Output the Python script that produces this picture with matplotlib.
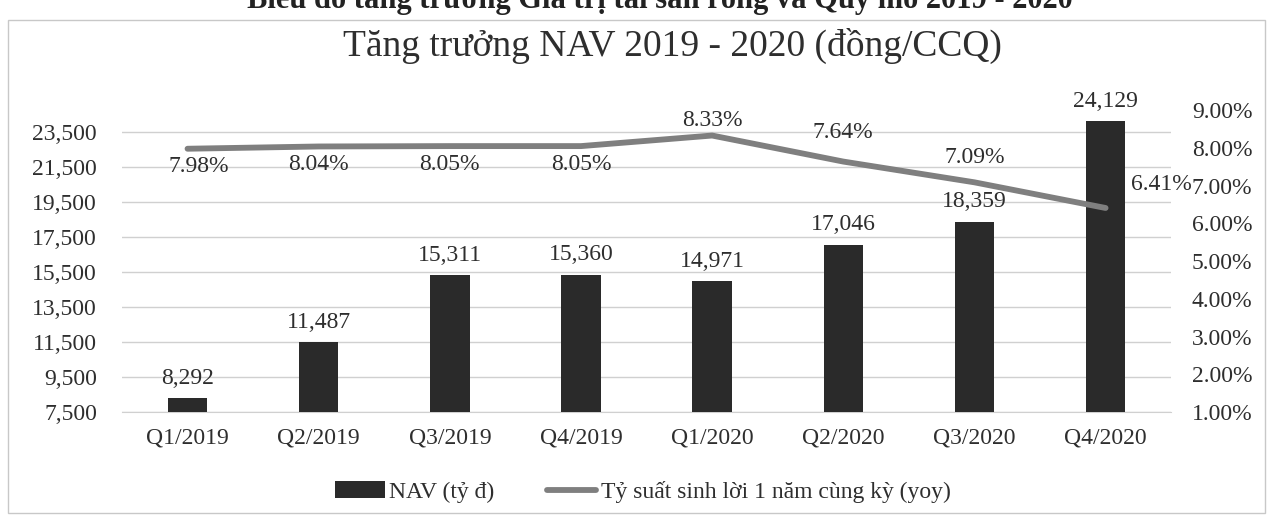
import matplotlib.pyplot as plt
from matplotlib.patches import Rectangle
from matplotlib.ticker import FuncFormatter

plt.rcParams['font.family'] = ['Liberation Serif', 'DejaVu Serif']

quarters = ['Q1/2019', 'Q2/2019', 'Q3/2019', 'Q4/2019',
            'Q1/2020', 'Q2/2020', 'Q3/2020', 'Q4/2020']
nav = [8292, 11487, 15311, 15360, 14971, 17046, 18359, 24129]
yoy = [7.98, 8.04, 8.05, 8.05, 8.33, 7.64, 7.09, 6.41]
left_ticks = [7500, 9500, 11500, 13500, 15500, 17500, 19500, 21500, 23500]
right_ticks = [1, 2, 3, 4, 5, 6, 7, 8, 9]

# where each yoy label sits relative to its point (points)
yoy_offsets = [(8, -13), (0, -13), (0, -13), (0, -13),
               (0, 11), (0, 21), (0, 18), (18, 17)]

txt = '#2e2e2e'
bar_col = '#2a2a2a'
line_col = '#7f7f7f'

fig = plt.figure(figsize=(12.73, 5.25), dpi=100)
ax = fig.add_axes([0.0958, 0.215, 0.8242, 0.575])
ax2 = ax.twinx()

x = range(len(quarters))
bars = ax.bar(x, nav, width=0.3, color=bar_col, zorder=3, label='NAV (tỷ đ)')
ax.set_ylim(7500, 24757)
ax.set_xlim(-0.5, len(quarters) - 0.5)
ax.set_yticks(left_ticks)
ax.yaxis.set_major_formatter(FuncFormatter(lambda v, p: f'{v:,.0f}'))
ax.set_xticks(list(x))
ax.set_xticklabels(quarters)
ax.grid(axis='y', color='#d0d0d0', linewidth=1, zorder=0)
ax.tick_params(axis='y', length=0, pad=18, labelsize=17, labelcolor=txt)
ax.tick_params(axis='x', length=0, pad=11, labelsize=17, labelcolor=txt)
for s in ['top', 'left', 'right']:
    ax.spines[s].set_visible(False)
ax.spines['bottom'].set_color('#d0d0d0')

for xi, v in zip(x, nav):
    ax.annotate(f'{v:,}', (xi, v), xytext=(0, 7), textcoords='offset points',
                ha='center', va='bottom', fontsize=17, color=txt)

line, = ax2.plot(list(x), yoy, color=line_col, linewidth=4.2,
                 solid_capstyle='round', zorder=4,
                 label='Tỷ suất sinh lời 1 năm cùng kỳ (yoy)')
ax2.set_ylim(1, 9)
ax2.set_yticks(right_ticks)
ax2.yaxis.set_major_formatter(FuncFormatter(lambda v, p: f'{v:.2f}%'))
ax2.tick_params(axis='y', length=0, pad=15, labelsize=17, labelcolor=txt)
for s in ax2.spines.values():
    s.set_visible(False)

for i, (xi, v) in enumerate(zip(x, yoy)):
    dx, dy = yoy_offsets[i]
    ha = 'left' if i == len(yoy) - 1 else 'center'
    ax2.annotate(f'{v:.2f}%', (xi, v), xytext=(dx, dy), textcoords='offset points',
                 ha=ha, va='center', fontsize=17, color=txt)

fig.text(0.528, 0.912, 'Tăng trưởng NAV 2019 - 2020 (đồng/CCQ)',
         ha='center', va='center', fontsize=27, color=txt)

# header of the page, cut off by the top edge
fig.text(0.518, 1 - 8 / 525, 'Biểu đồ tăng trưởng Giá trị tài sản ròng và Quy mô 2019 - 2020',
         ha='center', va='baseline', fontsize=22, fontweight='bold', color='#222222')

fig.legend(handles=[bars, line], loc='center', bbox_to_anchor=(0.505, 0.063),
           ncol=2, frameon=False, fontsize=17, handlelength=2.1,
           handletextpad=0.2, columnspacing=2.2, labelcolor=txt)

fig.patches.append(Rectangle((8 / 1273, 12 / 525), 1257 / 1273, 493 / 525,
                             transform=fig.transFigure, fill=False,
                             edgecolor='#c8c8c8', linewidth=1))

fig.savefig('out.png', dpi=100)
